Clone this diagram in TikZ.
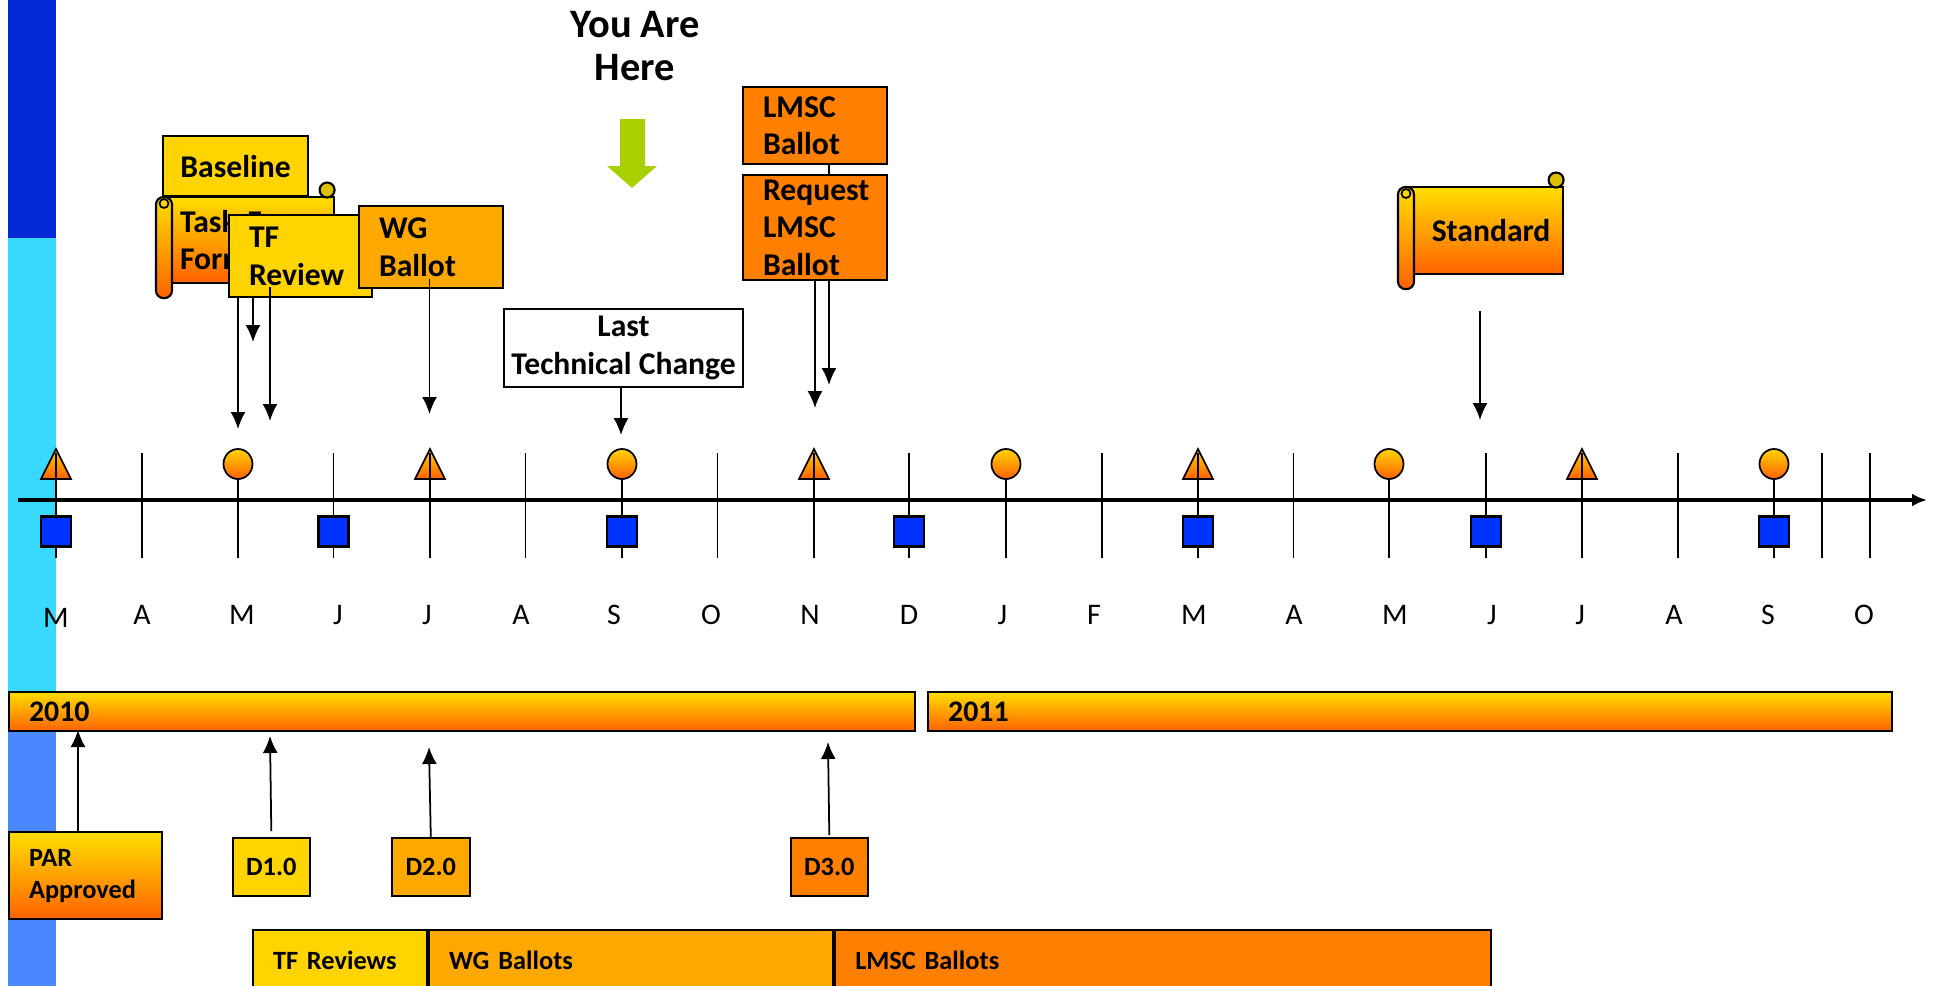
\documentclass[tikz,border=0pt]{standalone}
\usepackage{fontspec}
\setmainfont{Carlito}
\usetikzlibrary{positioning,arrows.meta}

\definecolor{bardark}{RGB}{4,40,214}
\definecolor{barcyan}{RGB}{56,216,255}
\definecolor{barblue}{RGB}{74,136,255}
\definecolor{gold}{RGB}{255,212,0}
\definecolor{amber}{RGB}{255,168,0}
\definecolor{dorange}{RGB}{255,127,0}
\definecolor{gradtop}{RGB}{255,222,0}
\definecolor{gradbot}{RGB}{255,98,0}
\definecolor{herearrow}{RGB}{168,208,0}
\definecolor{sqblue}{RGB}{0,51,255}
\definecolor{curl}{RGB}{222,190,0}

\tikzset{
  box/.style={draw, line width=0.6pt, anchor=north west, inner ysep=0pt,
    font=\fontsize{9}{10.7}\selectfont\bfseries},
  lbox/.style={box, align=left, inner xsep=2mm},
  cbox/.style={box, align=center},
  smalltxt/.style={font=\fontsize{7.5}{9.1}\selectfont\bfseries},
  grad/.style={top color=gradtop, bottom color=gradbot},
  conn/.style={line width=0.5pt, -{Latex[length=1.7mm,width=1.5mm]}},
  monthtick/.style={line width=0.55pt},
  monthlbl/.style={anchor=base, font=\fontsize{8.5}{10}\selectfont},
  milestone/.style={line width=0.5pt, top color=gold, bottom color=gradbot},
}

% roll and curl of a scroll
\newcommand\scrollparts[1]{%
  \draw[line width=0.6pt, grad, rounded corners=0.75mm]
    ([xshift=-0.8mm,yshift=-0.1mm]#1.north west) rectangle ([xshift=0.8mm,yshift=-1.4mm]#1.south west);
  \draw[line width=0.5pt] ([yshift=-0.75mm]#1.north west) circle[radius=0.45mm];
  \draw[line width=0.6pt, fill=curl] ([xshift=-0.8mm,yshift=0.6mm]#1.north east) circle[radius=0.75mm];
}

\begin{document}
\begin{tikzpicture}[x=0.1mm, y=-0.1mm]
	\useasboundingbox (0,0) rectangle (1937,986);
	\fill[bardark] (8,0) rectangle (56,238);
	\fill[barcyan] (8,238) rectangle (56,711);
	\fill[barblue] (8,711) rectangle (56,986);

	% free ends
	\coordinate (baseE) at (238,429);
	\coordinate (forceE) at (253,342);
	\coordinate (reviewE) at (270,421);
	\coordinate (wgE) at (429.5,414);
	\coordinate (changeE) at (621,435);
	\coordinate (lmscE) at (829,385);
	\coordinate (requestE) at (815,408);
	\coordinate (standardE) at (1480,420);
	\coordinate (parE) at (78,730);
	\coordinate (d1E) at (270,736);
	\coordinate (d2E) at (429,747);
	\coordinate (d3E) at (828,742);

	\node(here)[font=\fontsize{11.5}{12}\selectfont\bfseries, align=center] at (635,46) {You Are\\Here};
	\fill[herearrow] (620,119) -- (645,119) -- (645,166) -- (657,166) -- (632,188) -- (607,166) -- (620,166) -- cycle;

	% time line
	\foreach \x in {56,430,814,1198,1582}
		\draw[milestone] (\x-15,479) -- (\x+15,479) -- (\x,449) -- cycle;
	\foreach \x in {56,142,238,333.5,430,525.5,622,717.5,814,909,1006,1102,1198,1293.5,1389,1486,1582,1678,1774,1822,1870}
		\draw[monthtick] (\x,453) -- (\x,558);
	\foreach \x in {238,622,1006,1389,1774}
		\draw[milestone] (\x,464) circle[x radius=1.45mm, y radius=1.5mm];
	\foreach \x in {56,333.5,622,909,1198,1486,1774}
		\draw[line width=0.6pt, fill=sqblue] (\x-15,516.5) rectangle (\x+15,546.5);
	\draw[line width=1.2pt, -{Latex[length=1.5mm,width=1.3mm]}] (18,500) -- (1927,500);
	\foreach \x/\y/\m in {56/627/M,142/624/A,242/624/M,338/624/J,427/624/J,521/624/A,614/624/S,711/624/O,810/624/N,909/624/D,1002.5/624/J,1094/624/F,1194/624/M,1294/624/A,1395/624/M,1492/624/J,1580/624/J,1674/624/A,1768/624/S,1864/624/O}
		\node[monthlbl] at (\x,\y) {\m};

	% milestones above
	\node(baseline)[cbox, fill=gold, minimum width=14.5mm, minimum height=6mm] at (162,135) {Baseline};
	\path (baseline.south -| baseE) edge[conn] (baseE);
	\node(taskforce)[lbox, grad, inner xsep=1.5mm, text width=13.9mm, minimum height=8.6mm] at (164,196) {Task Force\\Formed};
	\scrollparts{taskforce}
	\path (taskforce.south -| forceE) edge[conn] (forceE);
	\node(tfreview)[lbox, fill=gold, text width=10.3mm, minimum height=8.2mm] at (228,214) {TF\\Review};
	\path ([yshift=1.1mm]tfreview.south -| reviewE) edge[conn] (reviewE);
	\node(wgballot)[lbox, fill=amber, text width=10.4mm, minimum height=8.2mm] at (358,205) {WG\\Ballot};
	\path ([yshift=1mm]wgballot.south -| wgE) edge[conn] (wgE);
	\node(lastchange)[cbox, fill=white, inner xsep=0.5mm, minimum width=23.9mm, minimum height=7.8mm] at (503,308) {Last\\Technical Change};
	\path (lastchange.south -| changeE) edge[conn] (changeE);
	\node(lmsc)[lbox, fill=dorange, text width=10.4mm, minimum height=7.7mm] at (742,86) {LMSC\\Ballot};
	\path (lmsc.south -| lmscE) edge[conn] (lmscE);
	\node(request)[lbox, fill=dorange, text width=10.4mm, minimum height=10.5mm, below=0.9mm of lmsc] {Request\\LMSC\\Ballot};
	\path (request.south -| requestE) edge[conn] (requestE);
	\node(standard)[cbox, grad, minimum width=15.6mm, minimum height=8.7mm] at (1406,186) {\hspace*{1.2mm}Standard};
	\scrollparts{standard}
	\path ([yshift=-3.6mm]standard.south -| standardE) edge[conn] (standardE);

	% years and drafts below
	\node(y2010)[lbox, grad, font=\fontsize{8.5}{10}\selectfont\bfseries, text width=86.6mm, minimum height=3.9mm] at (8,691) {2010};
	\node(y2011)[lbox, grad, font=\fontsize{8.5}{10}\selectfont\bfseries, text width=92.4mm, minimum height=3.9mm, right=1.1mm of y2010] {2011};
	\node(par)[lbox, grad, smalltxt, text width=11.3mm, minimum height=8.7mm] at (8,831) {PAR\\Approved};
	\path (par.north -| parE) edge[conn] (parE);
	\node(d1)[cbox, smalltxt, fill=gold, minimum width=7.75mm, minimum height=5.8mm] at (231.5,837) {D1.0};
	\path ([yshift=0.6mm]d1.north) edge[conn] (d1E);
	\node(d2)[cbox, smalltxt, fill=amber, minimum width=7.75mm, minimum height=5.8mm] at (391,837) {D2.0};
	\path (d2.north) edge[conn] (d2E);
	\node(d3)[cbox, smalltxt, fill=dorange, minimum width=7.75mm, minimum height=5.8mm] at (789.5,837) {D3.0};
	\path ([yshift=0.2mm]d3.north) edge[conn] (d3E);

	\node(tfreviews)[lbox, smalltxt, fill=gold, text width=13.4mm, minimum height=6.1mm] at (252,929) {TF Reviews};
	\node(wgballots)[lbox, smalltxt, fill=amber, text width=36.4mm, minimum height=6.1mm, right=0pt of tfreviews] {WG Ballots};
	\node(lmscballots)[lbox, smalltxt, fill=dorange, text width=61.6mm, minimum height=6.1mm, right=0pt of wgballots] {LMSC Ballots};
\end{tikzpicture}
\end{document}
